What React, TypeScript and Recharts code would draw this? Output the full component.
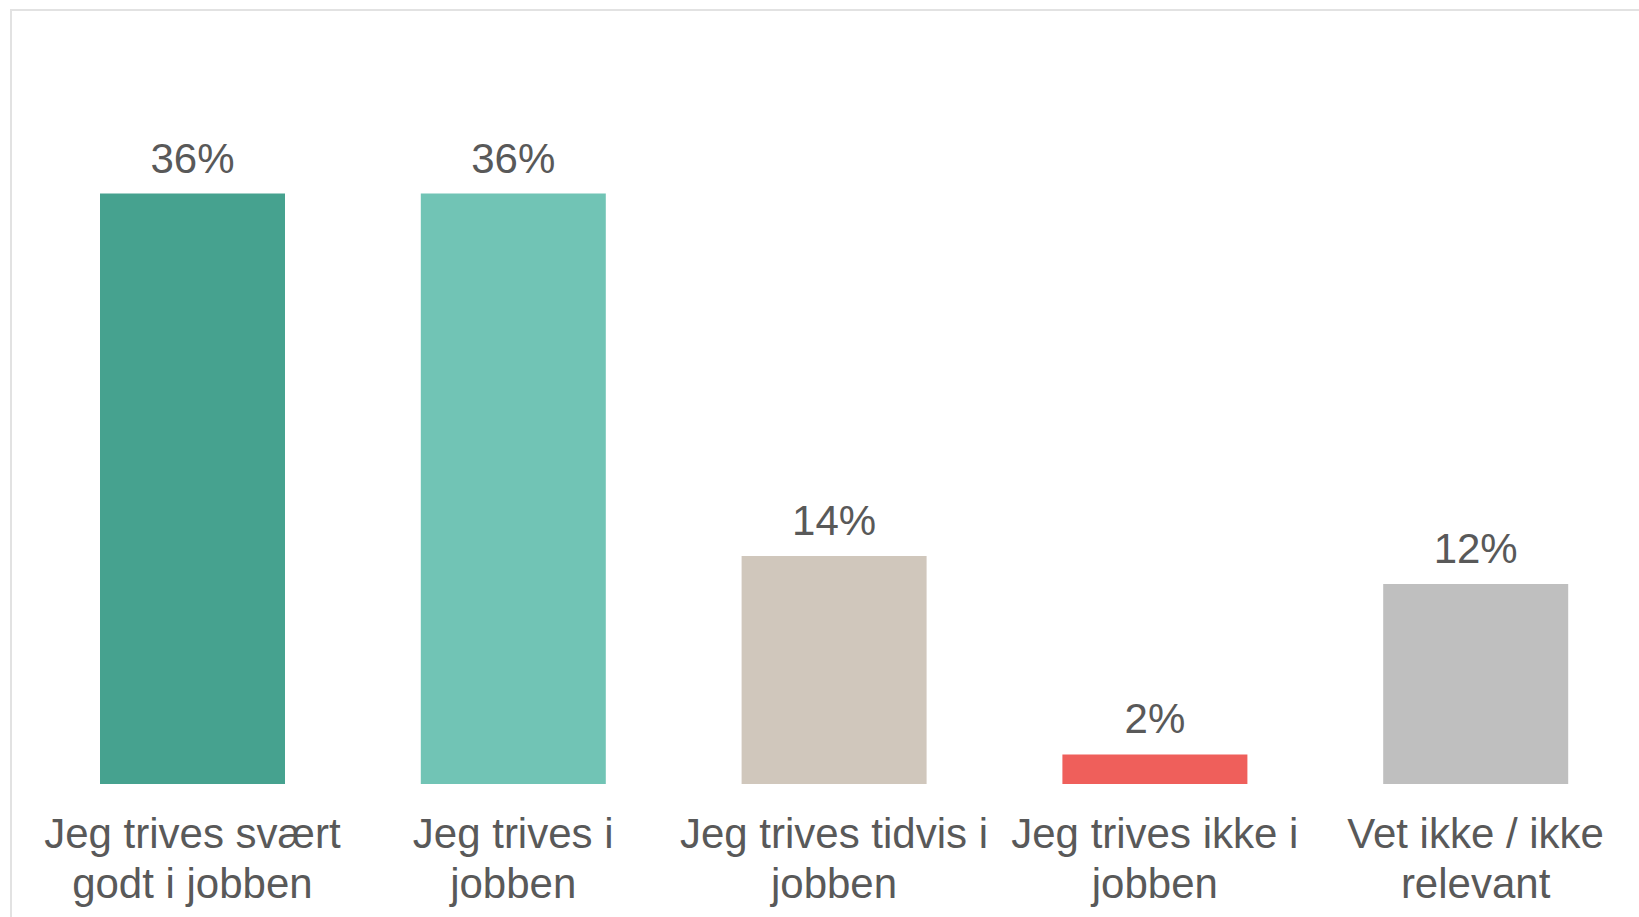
import { BarChart, Bar, XAxis, YAxis, Cell, LabelList } from 'recharts';

const categoryLines = [
  ['Jeg trives svært', 'godt i jobben'],
  ['Jeg trives i', 'jobben'],
  ['Jeg trives tidvis i', 'jobben'],
  ['Jeg trives ikke i', 'jobben'],
  ['Vet ikke / ikke', 'relevant'],
];
const categories = categoryLines.map((l) => l.join(' '));
const shares = [36, 36, 13.9, 1.8, 12.2];
const barColors = ['#46a28f', '#71c4b5', '#d0c7bc', '#ef5f5b', '#bfbfbf'];

const chartData = categories.map((name, i) => ({ name, share: shares[i] }));

const FONT = '"Liberation Sans", Arial, sans-serif';
const TEXT = '#595959';

const CategoryTick = ({ x, y, index }: any) => {
  const lines = categoryLines[index] || [];
  return (
    <text x={x} y={y} textAnchor="middle" fill={TEXT} fontSize={42} fontFamily={FONT}>
      {lines.map((line, i) => (
        <tspan key={i} x={x} dy={i === 0 ? 64 : 50}>
          {line}
        </tspan>
      ))}
    </text>
  );
};

export default function App() {
  return (
    <div style={{ position: 'absolute', left: 0, top: 0, width: 1639, height: 917, background: '#fff', overflow: 'hidden' }}>
      <div
        style={{
          position: 'absolute',
          left: 10,
          top: 9,
          width: 1700,
          height: 1000,
          borderTop: '2px solid #e2e2e2',
          borderLeft: '2px solid #e2e2e2',
        }}
      />
      <div style={{ position: 'absolute', left: 0, top: 0 }}>
        <BarChart
          width={1639}
          height={917}
          data={chartData}
          margin={{ top: 128, right: 3, bottom: 0, left: 32 }}
          barCategoryGap={68}
        >
          <XAxis
            dataKey="name"
            axisLine={false}
            tickLine={false}
            tickSize={0}
            tickMargin={0}
            height={133}
            interval={0}
            tick={<CategoryTick />}
          />
          <YAxis hide domain={[0, 40]} />
          <Bar dataKey="share" isAnimationActive={false}>
            {chartData.map((d, i) => (
              <Cell key={d.name} fill={barColors[i]} />
            ))}
            <LabelList
              dataKey="share"
              position="top"
              offset={21}
              formatter={(v: any) => `${Math.round(Number(v))}%`}
              fill={TEXT}
              fontSize={42}
              fontFamily={FONT}
            />
          </Bar>
        </BarChart>
      </div>
    </div>
  );
}
